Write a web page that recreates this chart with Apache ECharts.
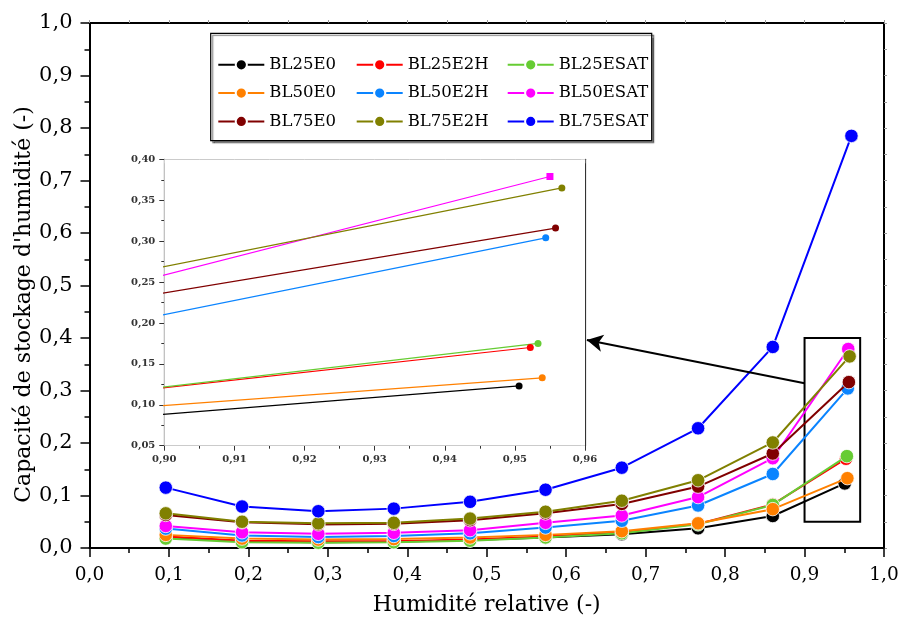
<!DOCTYPE html>
<html><head><meta charset="utf-8">
<script src="https://cdn.jsdelivr.net/npm/echarts@6/dist/echarts.min.js"></script>
<style>html,body{margin:0;padding:0;background:#fff}#c{width:901px;height:623px}</style>
</head><body><div id="c"></div>
<script>
// ---- data ----
const names = ['BL25E0','BL25E2H','BL25ESAT','BL50E0','BL50E2H','BL50ESAT','BL75E0','BL75E2H','BL75ESAT'];
const colors = ['#000000','#ff0000','#66cc33','#ff8000','#0a84ff','#ff00ff','#800000','#808000','#0000ff'];
const rh = [0.096, 0.192, 0.288, 0.383, 0.479, 0.574, 0.670, 0.766, 0.860];
const rhLast = [0.9506, 0.9522, 0.9533, 0.9539, 0.9544, 0.9550, 0.9558, 0.9567, 0.9590];
const BL25E0   = [0.021, 0.013, 0.011, 0.012, 0.015, 0.020, 0.026, 0.0375, 0.061, 0.123];
const BL25E2H  = [0.022, 0.014, 0.013, 0.013, 0.016, 0.022, 0.030, 0.046, 0.083, 0.170];
const BL25ESAT = [0.018, 0.011, 0.010, 0.011, 0.014, 0.020, 0.028, 0.045, 0.082, 0.175];
const BL50E0   = [0.025, 0.018, 0.016, 0.017, 0.020, 0.025, 0.032, 0.047, 0.074, 0.133];
const BL50E2H  = [0.037, 0.024, 0.021, 0.023, 0.028, 0.039, 0.052, 0.081, 0.141, 0.304];
const BL50ESAT = [0.042, 0.030, 0.027, 0.029, 0.034, 0.048, 0.062, 0.097, 0.171, 0.379];
const BL75E0   = [0.063, 0.049, 0.045, 0.046, 0.053, 0.066, 0.084, 0.117, 0.180, 0.316];
const BL75E2H  = [0.066, 0.050, 0.047, 0.048, 0.056, 0.069, 0.090, 0.129, 0.201, 0.365];
const BL75ESAT = [0.115, 0.079, 0.070, 0.075, 0.088, 0.111, 0.153, 0.228, 0.383, 0.785];
const values = [BL25E0, BL25E2H, BL25ESAT, BL50E0, BL50E2H, BL50ESAT, BL75E0, BL75E2H, BL75ESAT];
// zoom box and arrow annotation (data coordinates)
const zoomBox = [[0.90, 0.05], [0.97, 0.40]];
const arrowFromTo = [[0.90, 0.314], [0.626, 0.396]];

// ---- chart ----
const FONT = 'DejaVu Serif';
const fmt1 = v => (+v).toFixed(1).replace('.', ',');
const fmt2 = v => (+v).toFixed(2).replace('.', ',');
const pts = i => values[i].map((y, k) => [k < rh.length ? rh[k] : rhLast[i], y]);

const mainSeries = names.map((n, i) => ({
  name: n, type: 'line', xAxisIndex: 0, yAxisIndex: 0,
  data: pts(i), symbol: 'circle', symbolSize: 13.5,
  lineStyle: {color: colors[i], width: 2},
  itemStyle: {color: colors[i], borderColor: '#fff', borderWidth: 0.8},
  z: 2 + i * 0.01, animation: false
}));
mainSeries[0].markArea = {
  silent: true,
  itemStyle: {color: 'rgba(0,0,0,0)', borderColor: '#000', borderWidth: 2},
  data: [[{coord: zoomBox[0]}, {coord: zoomBox[1]}]]
};
mainSeries[0].markLine = {
  silent: true, symbol: ['none', 'arrow'], symbolSize: [13, 16],
  lineStyle: {color: '#000', width: 2, type: 'solid'}, label: {show: false},
  data: [[{coord: arrowFromTo[0]}, {coord: arrowFromTo[1]}]]
};
const insetSeries = names.map((n, i) => ({
  name: n, type: 'line', xAxisIndex: 2, yAxisIndex: 2,
  data: pts(i), symbol: n === 'BL50ESAT' ? 'rect' : 'circle', symbolSize: 7,
  lineStyle: {color: colors[i], width: 1.2},
  itemStyle: {color: colors[i]}, clip: true, legendHoverLink: false,
  z: 6, animation: false
}));

const tickStyle = {color: '#000', width: 1.5};
const option = {
  backgroundColor: '#fff',
  animation: false,
  grid: [
    {left: 89.5, top: 23, width: 794.5, height: 525, containLabel: false, outerBoundsMode: 'none'},
    {left: 164.3, top: 159.3, width: 420.7, height: 286.4, containLabel: false, outerBoundsMode: 'none',
     show: true, backgroundColor: '#fff', borderColor: 'rgba(0,0,0,0)', z: 5}
  ],
  legend: [0, 1, 2].map(c => ({
    orient: 'vertical', left: [217.3, 355.7, 506.7][c], top: 56.3, padding: 0,
    itemWidth: 46, itemHeight: 14, itemGap: 11.3, z: 10,
    data: names.filter((n, i) => i % 3 === c),
    textStyle: {fontFamily: FONT, fontSize: 16.5, color: '#000', lineHeight: 14}
  })),
  xAxis: [
    {type: 'value', gridIndex: 0, position: 'bottom', min: 0, max: 1, interval: 0.1,
     name: 'Humidité relative (-)', nameLocation: 'middle', nameGap: 46,
     nameTextStyle: {fontFamily: FONT, fontSize: 22, color: '#000'},
     axisLine: {show: true, onZero: false, lineStyle: {color: '#000', width: 2}},
     axisTick: {show: true, inside: false, length: 9, lineStyle: tickStyle},
     minorTick: {show: true, splitNumber: 2, length: 5, lineStyle: tickStyle},
     splitLine: {show: false},
     axisLabel: {formatter: fmt1, fontFamily: FONT, fontSize: 18.5, color: '#000', margin: 18, showMinLabel: true, showMaxLabel: true}},
    {type: 'value', gridIndex: 0, position: 'top', min: 0, max: 1, interval: 0.05,
     axisLine: {show: true, onZero: false, lineStyle: {color: '#000', width: 2}},
     axisTick: {show: true, inside: false, length: 3, lineStyle: {color: '#999', width: 1}},
     splitLine: {show: false}, axisLabel: {show: false}},
    {type: 'value', gridIndex: 1, position: 'bottom', min: 0.90, max: 0.96, interval: 0.01,
     axisLine: {show: true, onZero: false, lineStyle: {color: '#333', width: 1.2}},
     axisTick: {show: true, inside: false, length: 5, lineStyle: {color: '#333', width: 1}},
     minorTick: {show: true, splitNumber: 2, length: 3, lineStyle: {color: '#333', width: 1}},
     splitLine: {show: false},
     axisLabel: {formatter: fmt2, fontFamily: FONT, fontSize: 10, fontWeight: 'bold', color: '#333', margin: 9, showMinLabel: true, showMaxLabel: true}},
    {type: 'value', gridIndex: 1, position: 'top', min: 0.90, max: 0.96, interval: 0.01,
     axisLine: {show: true, onZero: false, lineStyle: {color: '#333', width: 1.2}},
     axisTick: {show: true, inside: true, length: 4, lineStyle: {color: '#666', width: 1}},
     minorTick: {show: true, splitNumber: 2, length: 2, lineStyle: {color: '#666', width: 1}},
     splitLine: {show: false}, axisLabel: {show: false}}
  ],
  yAxis: [
    {type: 'value', gridIndex: 0, position: 'left', min: 0, max: 1, interval: 0.1,
     axisLine: {show: true, onZero: false, lineStyle: {color: '#000', width: 2}},
     axisTick: {show: true, inside: false, length: 9, lineStyle: tickStyle},
     minorTick: {show: true, splitNumber: 2, length: 5, lineStyle: tickStyle},
     splitLine: {show: false},
     axisLabel: {formatter: fmt1, fontFamily: FONT, fontSize: 21, color: '#000', margin: 17, showMinLabel: true, showMaxLabel: true}},
    {type: 'value', gridIndex: 0, position: 'right', min: 0, max: 1, interval: 0.05,
     axisLine: {show: true, onZero: false, lineStyle: {color: '#000', width: 2}},
     axisTick: {show: true, inside: false, length: 3, lineStyle: {color: '#999', width: 1}},
     splitLine: {show: false}, axisLabel: {show: false}},
    {type: 'value', gridIndex: 1, position: 'left', min: 0.05, max: 0.40, interval: 0.05,
     axisLine: {show: true, onZero: false, lineStyle: {color: '#333', width: 1.2}},
     axisTick: {show: true, inside: false, length: 5, lineStyle: {color: '#333', width: 1}},
     minorTick: {show: true, splitNumber: 2, length: 3, lineStyle: {color: '#333', width: 1}},
     splitLine: {show: false},
     axisLabel: {formatter: fmt2, fontFamily: FONT, fontSize: 10, fontWeight: 'bold', color: '#333', margin: 9, showMinLabel: true, showMaxLabel: true}},
    {type: 'value', gridIndex: 1, position: 'right', min: 0.05, max: 0.40, interval: 0.05,
     axisLine: {show: true, onZero: false, lineStyle: {color: '#333', width: 1.2}},
     axisTick: {show: true, inside: true, length: 4, lineStyle: {color: '#666', width: 1}},
     minorTick: {show: true, splitNumber: 2, length: 2, lineStyle: {color: '#666', width: 1}},
     splitLine: {show: false}, axisLabel: {show: false}}
  ],
  graphic: [
    {type: 'rect', z: 8, shape: {x: 210.7, y: 33.3, width: 441, height: 107.4},
     style: {fill: '#fff', stroke: '#000', lineWidth: 1.2, shadowColor: 'rgba(0,0,0,0.45)', shadowOffsetX: 2, shadowOffsetY: 2, shadowBlur: 1}},
    {type: 'text', z: 8, x: 24, y: 304.5, rotation: Math.PI / 2,
     style: {text: "Capacité de stockage d'humidité (-)", font: '22px "DejaVu Serif"', fill: '#000', textAlign: 'center', textVerticalAlign: 'middle'}}
  ],
  series: mainSeries.concat(insetSeries)
};
const chart = echarts.init(document.getElementById('c'), null, {renderer: 'canvas'});
chart.setOption(option);
</script></body></html>
